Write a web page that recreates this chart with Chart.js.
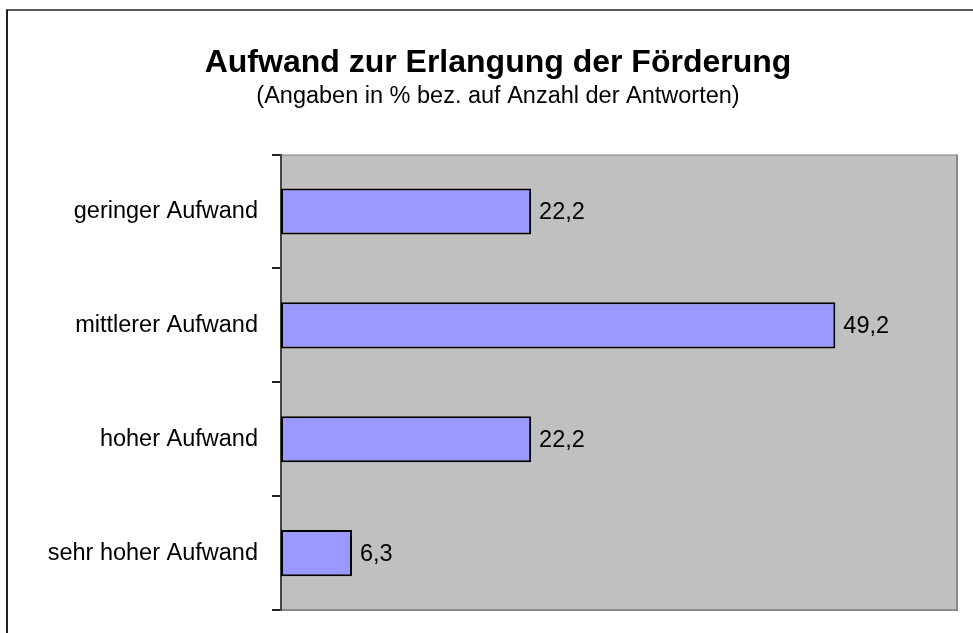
<!DOCTYPE html>
<html>
<head>
<meta charset="utf-8">
<script src="https://cdn.jsdelivr.net/npm/chart.js@4/dist/chart.umd.min.js"></script>
<style>
  html, body { margin: 0; padding: 0; background: #fff; }
  #wrap { width: 973px; height: 633px; position: relative; }
</style>
</head>
<body>
<div id="wrap"><canvas id="c" width="973" height="633"></canvas></div>
<script>
const titleText = 'Aufwand zur Erlangung der Förderung';
const subtitleText = '(Angaben in % bez. auf Anzahl der Antworten)';
const categories = ['geringer Aufwand', 'mittlerer Aufwand', 'hoher Aufwand', 'sehr hoher Aufwand'];
const values = [22.2, 49.2, 22.2, 6.3];
const xMin = 0;
const xMax = 60;

const FONT = '"Liberation Sans", Arial, sans-serif';

const framePlugin = {
  id: 'framePlugin',
  beforeDraw(chart) {
    const ctx = chart.ctx;
    const a = chart.chartArea;
    ctx.save();
    ctx.fillStyle = '#ffffff';
    ctx.fillRect(0, 0, chart.width, chart.height);
    // outer frame (left and top visible)
    ctx.strokeStyle = '#222222';
    ctx.lineWidth = 2;
    ctx.beginPath();
    ctx.moveTo(7, chart.height + 2);
    ctx.lineTo(7, 10);
    ctx.stroke();
    ctx.lineWidth = 1.5;
    ctx.beginPath();
    ctx.moveTo(6, 10);
    ctx.lineTo(chart.width + 2, 10);
    ctx.stroke();
    // plot area
    ctx.fillStyle = '#C0C0C0';
    ctx.fillRect(a.left, a.top, a.right - a.left, a.bottom - a.top);
    ctx.strokeStyle = '#8a8a8a';
    ctx.lineWidth = 1;
    ctx.beginPath();
    ctx.moveTo(a.left, a.top + 0.5);
    ctx.lineTo(a.right, a.top + 0.5);
    ctx.stroke();
    ctx.lineWidth = 2;
    ctx.beginPath();
    ctx.moveTo(a.right, a.top);
    ctx.lineTo(a.right, a.bottom);
    ctx.lineTo(a.left, a.bottom);
    ctx.stroke();
    ctx.restore();
  }
};

const valueLabels = {
  id: 'valueLabels',
  afterDatasetsDraw(chart) {
    const ctx = chart.ctx;
    const meta = chart.getDatasetMeta(0);
    ctx.save();
    ctx.font = '23.5px ' + FONT;
    ctx.fillStyle = '#000';
    ctx.textAlign = 'left';
    ctx.textBaseline = 'middle';
    meta.data.forEach((bar, i) => {
      const txt = values[i].toFixed(1).replace('.', ',');
      ctx.fillText(txt, bar.x + 8, bar.y + 1);
    });
    ctx.restore();
  }
};

new Chart(document.getElementById('c'), {
  type: 'bar',
  data: {
    labels: categories,
    datasets: [{
      data: values,
      backgroundColor: '#9999FF',
      borderColor: '#000000',
      borderWidth: 2,
      borderSkipped: false,
      categoryPercentage: 1.0,
      barPercentage: 0.405
    }]
  },
  options: {
    indexAxis: 'y',
    responsive: false,
    animation: false,
    devicePixelRatio: 1,
    layout: { padding: { left: 39, right: 16, top: 0, bottom: 23 } },
    plugins: {
      legend: { display: false },
      tooltip: { enabled: false },
      title: {
        display: true,
        text: titleText,
        color: '#000',
        font: { family: FONT, size: 32, weight: 'bold' },
        padding: { top: 44, bottom: 0 }
      },
      subtitle: {
        display: true,
        text: subtitleText,
        color: '#000',
        font: { family: FONT, size: 23.5, weight: 'normal' },
        padding: { top: 0, bottom: 44 }
      }
    },
    scales: {
      x: {
        display: false,
        min: xMin,
        max: xMax
      },
      y: {
        position: 'left',
        afterFit(scale) {
          scale.width = 242;
          scale.paddingTop = 0;
          scale.paddingBottom = 0;
        },
        grid: {
          offset: true,
          drawOnChartArea: false,
          drawTicks: true,
          tickLength: 9,
          color: '#222',
          lineWidth: 2
        },
        border: { display: true, color: '#444', width: 2 },
        ticks: {
          color: '#000',
          padding: 14,
          font: { family: FONT, size: 23.5 }
        }
      }
    }
  },
  plugins: [framePlugin, valueLabels]
});
</script>
</body>
</html>
